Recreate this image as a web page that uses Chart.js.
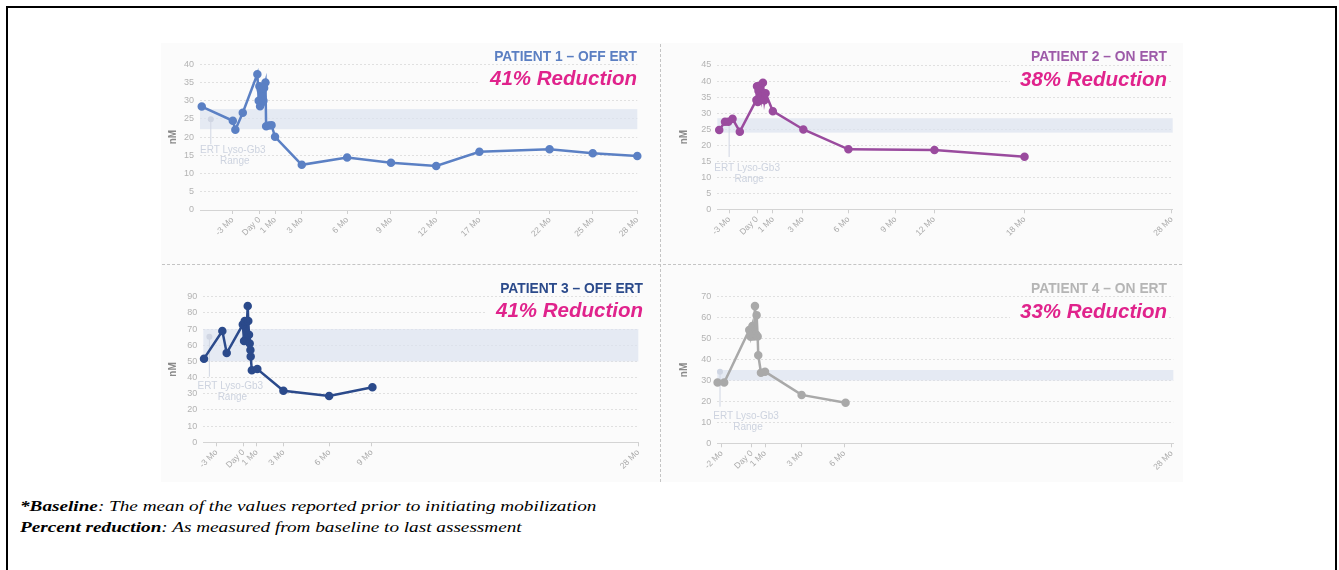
<!DOCTYPE html>
<html>
<head>
<meta charset="utf-8">
<script src="https://cdn.jsdelivr.net/npm/chart.js@4.4.0/dist/chart.umd.min.js"></script>
<style>
body { margin: 0; background: #fff; }
#page { position: relative; width: 1339px; height: 570px; overflow: hidden; font-family: "Liberation Sans", Arial, sans-serif; }
#frame { position: absolute; left: 6px; top: 6px; width: 1327px; height: 620px; border: 2px solid #000; border-bottom: none; }
#figure { position: absolute; left: 161px; top: 43px; width: 1022px; height: 439px; background: #fbfbfb; }
.vdiv { position: absolute; left: 660px; top: 44px; height: 438px; border-left: 1px dashed #c4c4c4; }
.hdiv { position: absolute; left: 162px; top: 264px; width: 1020px; border-top: 1px dashed #c4c4c4; }
canvas { position: absolute; }
.head { position: absolute; text-align: right; font-weight: bold; white-space: nowrap; background: #fbfbfb; padding-left: 10px; line-height: 1; }
.ptitle { font-size: 13.8px; }
.pred { font-size: 20.5px; font-style: italic; color: #e0238c; }
.note { position: absolute; left: 20px; font-family: "Liberation Serif", "Times New Roman", serif; font-style: italic; font-size: 15px; white-space: nowrap; transform: scaleX(1.28); transform-origin: 0 50%; }
</style>
</head>
<body>
<div id="page">
  <div id="frame"></div>
  <div id="figure"></div>
  <div class="vdiv"></div>
  <div class="hdiv"></div>
  <canvas id="c1" width="495" height="222"></canvas>
  <canvas id="c2" width="518" height="222"></canvas>
  <canvas id="c3" width="495" height="215"></canvas>
  <canvas id="c4" width="518" height="215"></canvas>
  <div class="note" style="top:498px"><b>*Baseline</b>: The mean of the values reported prior to initiating mobilization</div>
  <div class="note" style="top:519px"><b>Percent reduction</b>: As measured from baseline to last assessment</div>
</div>
<script>
// texts
const patientTitles = ['PATIENT 1 \u2013 OFF ERT', 'PATIENT 2 \u2013 ON ERT', 'PATIENT 3 \u2013 OFF ERT', 'PATIENT 4 \u2013 ON ERT'];
const reductionLabels = ['41% Reduction', '38% Reduction', '41% Reduction', '33% Reduction'];
const rangeLabel = ['ERT Lyso-Gb3', 'Range'];
const yTitle = 'nM';

// patient 1 (months from day 0, nM)
const p1Months = [-4.27, -1.97, -1.78, -1.23, -0.15, -0.05, 0, 0.05, 0.1, 0.15, 0.2, 0.3, 0.35, 0.45, 0.5, 0.7, 0.9, 1.16, 3.14, 6.5, 9.75, 13.1, 16.3, 21.5, 24.7, 28];
const p1Values = [28.4, 24.5, 22.0, 26.7, 37.3, 30, 34, 28.5, 33, 29.5, 31, 30, 33.5, 35, 23, 23.2, 23.3, 20.1, 12.4, 14.4, 13.0, 12.1, 16.0, 16.7, 15.6, 14.8];
const p1TickMonths = [-2, 0, 1.16, 3.14, 6.5, 9.75, 13.1, 16.3, 21.5, 24.7, 28];
const p1TickLabels = ['-3 Mo', 'Day 0', '1 Mo', '3 Mo', '6 Mo', '9 Mo', '12 Mo', '17 Mo', '22 Mo', '25 Mo', '28 Mo'];

// patient 2
const p2Months = [-2.55, -2.16, -1.94, -1.65, -1.16, -0.04, 0, 0.05, 0.1, 0.15, 0.2, 0.3, 0.4, 0.5, 0.58, 1.07, 3.13, 6.17, 11.98, 18.06];
const p2Values = [24.7, 27.3, 27.3, 28.2, 24.2, 34.1, 38.4, 33.5, 37, 34.5, 38.5, 35, 39.5, 34, 36.2, 30.6, 24.9, 18.7, 18.5, 16.4];
const p2TickMonths = [-1.88, 0, 1.07, 3.08, 6.17, 9.34, 11.95, 18.06, 28];
const p2TickLabels = ['-3 Mo', 'Day 0', '1 Mo', '3 Mo', '6 Mo', '9 Mo', '12 Mo', '18 Mo', '28 Mo'];

// patient 3
const p3Months = [-2.79, -1.49, -1.18, -0.04, 0.05, 0.1, 0.2, 0.31, 0.35, 0.4, 0.45, 0.5, 0.52, 0.6, 0.99, 2.84, 6.08, 9.15];
const p3Values = [51.7, 68.8, 55.2, 72.8, 62.6, 75, 64, 84.2, 75, 66.5, 61, 57, 53, 44.5, 45.3, 31.9, 28.6, 34];
const p3TickMonths = [-1.9, 0, 0.95, 2.84, 6.1, 9.1, 28];
const p3TickLabels = ['-3 Mo', 'Day 0', '1 Mo', '3 Mo', '6 Mo', '9 Mo', '28 Mo'];

// patient 4
const p4Months = [-2.27, -1.83, -0.16, -0.07, 0.05, 0.15, 0.22, 0.3, 0.33, 0.4, 0.44, 0.62, 0.89, 3.33, 6.26];
const p4Values = [29.0, 29.0, 54.1, 50.9, 56, 51, 65.5, 52, 61.2, 51, 42.1, 33.7, 34.2, 23.1, 19.4];
const p4TickMonths = [-2, 0, 0.89, 3.33, 6.17, 28];
const p4TickLabels = ['-2 Mo', 'Day 0', '1 Mo', '3 Mo', '6 Mo', '28 Mo'];

// ERT lyso-Gb3 range per patient (nM)
const ertLow = [22.2, 23.9, 50, 30];
const ertHigh = [27.7, 28.4, 70, 35];
const yMax = [40, 45, 90, 70];
const yStep = [5, 5, 10, 10];

const panels = [
    { id: 'c1', months: p1Months, values: p1Values, ticks: p1TickMonths, labels: p1TickLabels, xMin: -4.4, xMax: 28,
      color: '#5b80c4', titleColor: '#5b7fc2',
      box: { left: 160, top: 40, width: 495, height: 222 }, area: { left: 200, top: 64.3, right: 637.3, bottom: 210 },
      titlePad: 7, mark: { x: -3.6, y: 24.9, drop: 25, dx: 22, dy: 31 }, head: { right: 637, top: 57, top2: 78 } },
    { id: 'c2', months: p2Months, values: p2Values, ticks: p2TickMonths, labels: p2TickLabels, xMin: -2.68, xMax: 28.06,
      color: '#9a4b9e', titleColor: '#9d5aa8',
      box: { left: 662, top: 40, width: 518, height: 222 }, area: { left: 717.3, top: 65, right: 1176, bottom: 209.3 },
      titlePad: 16, mark: { x: -1.88, y: 26.9, drop: 34, dx: 18, dy: 45 }, head: { right: 1167, top: 57, top2: 79 } },
    { id: 'c3', months: p3Months, values: p3Values, ticks: p3TickMonths, labels: p3TickLabels, xMin: -2.84, xMax: 28,
      color: '#2b4a8b', titleColor: '#2b4a8b',
      box: { left: 160, top: 268, width: 495, height: 215 }, area: { left: 203.3, top: 296.7, right: 638.3, bottom: 442.3 },
      titlePad: 7, mark: { x: -2.41, y: 65.3, drop: 40, dx: 21, dy: 50 }, head: { right: 643, top: 289, top2: 310 } },
    { id: 'c4', months: p4Months, values: p4Values, ticks: p4TickMonths, labels: p4TickLabels, xMin: -2.29, xMax: 28.1,
      color: '#a9a9a9', titleColor: '#b5b5b5',
      box: { left: 662, top: 268, width: 518, height: 215 }, area: { left: 717.3, top: 296.7, right: 1173.3, bottom: 443.3 },
      titlePad: 16, mark: { x: -2.11, y: 34.2, drop: 35, dx: 26, dy: 45 }, head: { right: 1167, top: 289, top2: 311 } }
];

// light band + "ERT Lyso-Gb3 Range" note
const rangePlugin = {
    id: 'ertRange',
    beforeDatasetsDraw(chart, args, opts) {
        const { ctx, chartArea, scales: { x, y } } = chart;
        const top = y.getPixelForValue(opts.high);
        const bot = y.getPixelForValue(opts.low);
        ctx.save();
        ctx.fillStyle = 'rgba(220,227,240,0.7)';
        ctx.fillRect(chartArea.left, top, chartArea.right - chartArea.left, bot - top);

        const mx = x.getPixelForValue(opts.mark.x);
        const my = y.getPixelForValue(opts.mark.y);
        ctx.strokeStyle = '#d0d6e3';
        ctx.lineWidth = 1;
        ctx.beginPath();
        ctx.moveTo(mx, my);
        ctx.lineTo(mx, my + opts.mark.drop);
        ctx.stroke();
        ctx.fillStyle = '#d0d6e3';
        ctx.beginPath();
        ctx.arc(mx, my, 3, 0, Math.PI * 2);
        ctx.fill();

        ctx.fillStyle = '#cdd3df';
        ctx.font = '10px "Liberation Sans", Arial, sans-serif';
        ctx.textAlign = 'center';
        ctx.textBaseline = 'middle';
        ctx.fillText(rangeLabel[0], mx + opts.mark.dx, my + opts.mark.dy);
        ctx.fillText(rangeLabel[1], mx + opts.mark.dx + 2, my + opts.mark.dy + 11);
        ctx.restore();
    }
};

const page = document.getElementById('page');

panels.forEach((p, i) => {
    const canvas = document.getElementById(p.id);
    canvas.style.left = p.box.left + 'px';
    canvas.style.top = p.box.top + 'px';

    const yAxisWidth = p.area.left - p.box.left;
    const xAxisHeight = p.box.top + p.box.height - p.area.bottom;

    new Chart(canvas.getContext('2d'), {
        type: 'line',
        data: {
            datasets: [{
                data: p.months.map((m, k) => ({ x: m, y: p.values[k] })),
                borderColor: p.color,
                backgroundColor: p.color,
                borderWidth: 2.5,
                pointRadius: 3,
                tension: 0,
                clip: false
            }]
        },
        options: {
            responsive: false,
            animation: false,
            events: [],
            layout: {
                autoPadding: false,
                padding: { left: 0, top: p.area.top - p.box.top, right: p.box.left + p.box.width - p.area.right, bottom: 0 }
            },
            plugins: {
                legend: { display: false },
                tooltip: { enabled: false },
                ertRange: { low: ertLow[i], high: ertHigh[i], mark: p.mark }
            },
            scales: {
                x: {
                    type: 'linear',
                    min: p.xMin,
                    max: p.xMax,
                    afterBuildTicks: (scale) => { scale.ticks = p.ticks.map(v => ({ value: v })); },
                    afterFit: (scale) => { scale.height = xAxisHeight; },
                    ticks: {
                        autoSkip: false,
                        minRotation: 45,
                        maxRotation: 45,
                        padding: 1,
                        color: '#aaaaaa',
                        font: { size: 8.5, family: '"Liberation Sans", Arial, sans-serif' },
                        callback: (v, k) => p.labels[k]
                    },
                    grid: { drawOnChartArea: false, drawTicks: true, tickLength: 4, color: '#cfcfcf' },
                    border: { display: true, color: '#d4d4d4', dash: [2, 2] }
                },
                y: {
                    min: 0,
                    max: yMax[i],
                    afterFit: (scale) => { scale.width = yAxisWidth; },
                    ticks: {
                        stepSize: yStep[i],
                        padding: 6,
                        color: '#b3b3b3',
                        font: { size: 9, family: '"Liberation Sans", Arial, sans-serif' }
                    },
                    grid: { drawTicks: false, color: '#e0e0e0' },
                    border: { display: false, dash: [2, 2] },
                    title: {
                        display: true,
                        text: yTitle,
                        color: '#8a8a8a',
                        padding: { top: p.titlePad, bottom: 0 },
                        font: { size: 10, weight: 'bold', family: '"Liberation Sans", Arial, sans-serif' }
                    }
                }
            }
        },
        plugins: [rangePlugin]
    });

    const t = document.createElement('div');
    t.className = 'head ptitle';
    t.textContent = patientTitles[i];
    t.style.color = p.titleColor;
    t.style.right = (1339 - p.head.right) + 'px';
    t.style.top = (p.head.top - 7) + 'px';
    page.appendChild(t);

    const r = document.createElement('div');
    r.className = 'head pred';
    r.textContent = reductionLabels[i];
    r.style.right = (1339 - p.head.right) + 'px';
    r.style.top = (p.head.top2 - 10) + 'px';
    page.appendChild(r);
});
</script>
</body>
</html>
